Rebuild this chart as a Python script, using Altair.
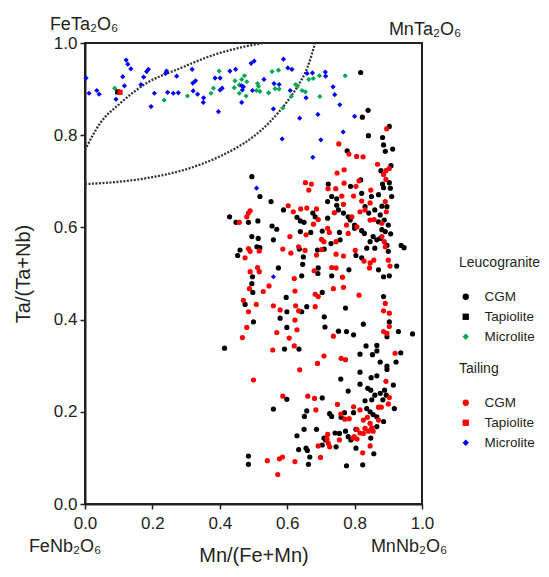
import altair as alt
import pandas as pd

#%% ####################
## values: (Mn/(Fe+Mn), Ta/(Ta+Nb))

# Leucogranite
leuco_cgm = [
    (0.495, 0.710), (0.818, 0.936), (0.840, 0.854), (0.823, 0.839), (0.903, 0.819),
    (0.841, 0.799), (0.883, 0.795), (0.886, 0.779), (0.913, 0.770), (0.891, 0.765),
    (0.778, 0.766), (0.908, 0.734), (0.878, 0.723), (0.903, 0.697), (0.883, 0.694),
    (0.886, 0.686), (0.906, 0.685), (0.722, 0.694), (0.788, 0.689), (0.818, 0.703),
    (0.519, 0.667), (0.552, 0.656), (0.429, 0.623), (0.448, 0.611), (0.485, 0.611),
    (0.513, 0.614), (0.555, 0.603), (0.569, 0.596), (0.495, 0.580), (0.514, 0.576),
    (0.559, 0.573), (0.510, 0.558), (0.519, 0.556), (0.460, 0.551), (0.453, 0.539),
    (0.574, 0.512), (0.497, 0.493), (0.495, 0.478), (0.498, 0.459), (0.475, 0.433),
    (0.500, 0.395), (0.597, 0.448), (0.643, 0.495), (0.691, 0.500), (0.732, 0.495),
    (0.783, 0.508), (0.704, 0.459), (0.658, 0.428), (0.643, 0.417), (0.599, 0.417),
    (0.579, 0.403), (0.599, 0.383), (0.710, 0.406), (0.712, 0.384), (0.773, 0.425),
    (0.752, 0.375), (0.776, 0.374), (0.797, 0.367), (0.826, 0.390), (0.886, 0.450),
    (0.903, 0.395), (0.930, 0.374), (0.972, 0.369), (0.896, 0.363), (0.646, 0.520),
    (0.692, 0.512), (0.636, 0.553), (0.648, 0.536), (0.690, 0.551), (0.710, 0.553),
    (0.730, 0.565), (0.757, 0.573), (0.804, 0.539), (0.821, 0.534), (0.836, 0.555),
    (0.860, 0.555), (0.866, 0.573), (0.876, 0.576), (0.896, 0.561), (0.900, 0.548),
    (0.938, 0.561), (0.947, 0.556), (0.925, 0.516), (0.886, 0.493), (0.903, 0.495),
    (0.871, 0.508), (0.639, 0.591), (0.670, 0.589), (0.704, 0.592), (0.755, 0.589),
    (0.800, 0.598), (0.821, 0.593), (0.829, 0.587), (0.846, 0.569), (0.629, 0.622),
    (0.639, 0.614), (0.650, 0.611), (0.676, 0.631), (0.683, 0.623), (0.720, 0.620),
    (0.589, 0.638), (0.720, 0.656), (0.747, 0.648), (0.752, 0.638), (0.767, 0.631),
    (0.781, 0.623), (0.787, 0.616), (0.800, 0.605), (0.747, 0.662), (0.821, 0.674),
    (0.850, 0.667), (0.871, 0.671), (0.910, 0.667), (0.881, 0.646), (0.896, 0.645),
    (0.876, 0.627), (0.888, 0.616), (0.900, 0.605), (0.881, 0.595), (0.891, 0.591),
    (0.907, 0.586), (0.855, 0.580), (0.871, 0.612), (0.842, 0.631), (0.860, 0.638),
    (0.831, 0.645), (0.732, 0.667),
    (0.414, 0.338), (0.592, 0.336), (0.635, 0.336), (0.834, 0.343), (0.866, 0.344),
    (0.816, 0.325), (0.853, 0.324), (0.866, 0.332), (0.937, 0.328), (0.876, 0.308),
    (0.896, 0.299), (0.896, 0.292), (0.923, 0.308), (0.816, 0.286), (0.849, 0.274),
    (0.866, 0.278), (0.759, 0.271), (0.816, 0.260), (0.839, 0.251), (0.848, 0.247),
    (0.860, 0.236), (0.876, 0.240), (0.889, 0.247), (0.894, 0.236), (0.915, 0.258),
    (0.781, 0.245), (0.831, 0.224), (0.851, 0.226), (0.884, 0.226), (0.918, 0.207),
    (0.836, 0.207), (0.846, 0.200), (0.855, 0.194), (0.866, 0.189), (0.797, 0.198),
    (0.770, 0.198), (0.760, 0.188), (0.886, 0.179), (0.866, 0.168), (0.726, 0.196),
    (0.732, 0.190), (0.704, 0.230), (0.658, 0.202), (0.651, 0.190), (0.559, 0.206),
    (0.599, 0.227), (0.650, 0.162), (0.687, 0.162), (0.629, 0.148), (0.742, 0.154),
    (0.755, 0.153), (0.773, 0.158), (0.781, 0.146), (0.789, 0.139), (0.804, 0.162),
    (0.709, 0.143), (0.714, 0.139), (0.704, 0.128), (0.745, 0.124), (0.848, 0.143),
    (0.804, 0.121), (0.634, 0.118), (0.656, 0.121), (0.660, 0.116), (0.667, 0.102),
    (0.857, 0.109), (0.485, 0.104), (0.485, 0.086), (0.663, 0.086), (0.776, 0.083),
    (0.824, 0.085),
]
leuco_tap = [(0.097, 0.894)]
leuco_mic = [
    (0.088, 0.902), (0.235, 0.876), (0.304, 0.885), (0.374, 0.891), (0.381, 0.902),
    (0.398, 0.939), (0.445, 0.918), (0.458, 0.909), (0.465, 0.921), (0.473, 0.929),
    (0.480, 0.916), (0.443, 0.903), (0.458, 0.891), (0.478, 0.885), (0.509, 0.897),
    (0.555, 0.938), (0.574, 0.941), (0.512, 0.912), (0.515, 0.906), (0.519, 0.895),
    (0.545, 0.892), (0.564, 0.901), (0.576, 0.900), (0.625, 0.910), (0.631, 0.907),
    (0.644, 0.897), (0.654, 0.894), (0.664, 0.921), (0.677, 0.923), (0.696, 0.929),
    (0.772, 0.929), (0.612, 0.884), (0.697, 0.884), (0.587, 0.859),
]

# Tailing
tail_cgm = [
    (0.895, 0.814), (0.753, 0.781), (0.783, 0.759), (0.806, 0.754), (0.825, 0.753),
    (0.769, 0.725), (0.748, 0.718), (0.868, 0.737), (0.893, 0.723), (0.903, 0.728),
    (0.886, 0.715), (0.893, 0.704), (0.813, 0.701), (0.804, 0.689), (0.769, 0.696),
    (0.654, 0.697), (0.672, 0.694), (0.721, 0.684), (0.744, 0.684), (0.664, 0.681),
    (0.848, 0.681),
    (0.762, 0.668), (0.767, 0.650), (0.797, 0.668), (0.821, 0.657), (0.846, 0.653),
    (0.891, 0.656), (0.894, 0.634), (0.603, 0.647), (0.618, 0.634), (0.640, 0.640),
    (0.658, 0.642), (0.687, 0.640), (0.485, 0.631), (0.490, 0.636), (0.480, 0.623),
    (0.458, 0.611), (0.692, 0.617), (0.678, 0.607), (0.740, 0.632), (0.792, 0.623),
    (0.816, 0.634), (0.831, 0.638), (0.858, 0.617), (0.881, 0.609), (0.776, 0.605),
    (0.846, 0.616), (0.656, 0.584), (0.608, 0.580), (0.720, 0.598), (0.725, 0.589),
    (0.702, 0.574), (0.709, 0.569), (0.745, 0.569), (0.781, 0.587), (0.807, 0.601),
    (0.881, 0.580), (0.888, 0.569), (0.891, 0.558), (0.634, 0.558), (0.653, 0.550),
    (0.587, 0.553), (0.611, 0.544), (0.485, 0.554), (0.490, 0.548), (0.517, 0.549),
    (0.475, 0.534), (0.687, 0.540), (0.702, 0.552), (0.745, 0.542), (0.767, 0.538),
    (0.802, 0.550), (0.828, 0.527), (0.846, 0.523), (0.844, 0.512), (0.857, 0.529),
    (0.900, 0.529), (0.905, 0.516), (0.490, 0.504), (0.512, 0.513), (0.517, 0.504),
    (0.546, 0.473), (0.529, 0.461), (0.488, 0.467), (0.470, 0.442), (0.508, 0.433),
    (0.485, 0.417), (0.621, 0.489), (0.680, 0.506), (0.732, 0.513), (0.745, 0.512),
    (0.764, 0.492), (0.737, 0.467), (0.767, 0.470), (0.813, 0.453), (0.623, 0.462),
    (0.683, 0.455), (0.692, 0.450), (0.683, 0.428), (0.559, 0.430), (0.579, 0.421),
    (0.625, 0.430), (0.634, 0.419), (0.623, 0.399), (0.629, 0.378), (0.569, 0.372),
    (0.480, 0.383), (0.467, 0.361), (0.891, 0.435), (0.886, 0.419), (0.903, 0.414),
    (0.903, 0.385), (0.886, 0.374), (0.896, 0.370),
    (0.606, 0.360), (0.737, 0.364), (0.557, 0.334), (0.621, 0.343), (0.709, 0.321),
    (0.690, 0.305), (0.760, 0.316), (0.773, 0.313), (0.920, 0.327), (0.637, 0.291),
    (0.500, 0.269), (0.893, 0.266), (0.903, 0.231), (0.900, 0.217), (0.587, 0.234),
    (0.661, 0.234), (0.681, 0.229), (0.685, 0.204), (0.749, 0.216), (0.797, 0.211),
    (0.816, 0.204), (0.759, 0.195), (0.771, 0.184), (0.784, 0.185), (0.826, 0.182),
    (0.838, 0.188), (0.871, 0.210), (0.879, 0.210), (0.871, 0.182), (0.846, 0.175),
    (0.851, 0.165), (0.807, 0.162), (0.816, 0.154), (0.826, 0.153), (0.831, 0.164),
    (0.841, 0.158), (0.855, 0.158), (0.799, 0.146), (0.807, 0.141), (0.795, 0.143),
    (0.720, 0.151), (0.718, 0.141), (0.722, 0.132), (0.726, 0.124), (0.755, 0.139),
    (0.692, 0.126), (0.846, 0.126), (0.824, 0.111), (0.699, 0.101), (0.541, 0.094),
    (0.577, 0.098), (0.586, 0.102), (0.623, 0.092), (0.572, 0.064),
]
tail_tap = [(0.104, 0.893)]
tail_mic = [
    (0.003, 0.924), (0.012, 0.891), (0.035, 0.897), (0.042, 0.889), (0.122, 0.963),
    (0.127, 0.954), (0.136, 0.944), (0.112, 0.927), (0.117, 0.907), (0.092, 0.878),
    (0.166, 0.910), (0.174, 0.926), (0.183, 0.938), (0.188, 0.943), (0.206, 0.891),
    (0.196, 0.862), (0.239, 0.934), (0.242, 0.939), (0.272, 0.928), (0.245, 0.893),
    (0.262, 0.891), (0.277, 0.892), (0.318, 0.943), (0.320, 0.913), (0.328, 0.918),
    (0.321, 0.896), (0.334, 0.889), (0.352, 0.881), (0.351, 0.871), (0.396, 0.851),
    (0.386, 0.924), (0.401, 0.924), (0.401, 0.898), (0.407, 0.902), (0.430, 0.939),
    (0.447, 0.943), (0.493, 0.956), (0.502, 0.961), (0.465, 0.907), (0.470, 0.905),
    (0.467, 0.898), (0.465, 0.871), (0.497, 0.897),
    (0.589, 0.965), (0.602, 0.946), (0.614, 0.943), (0.531, 0.921), (0.561, 0.912),
    (0.576, 0.910), (0.609, 0.897), (0.659, 0.934), (0.675, 0.935), (0.713, 0.937),
    (0.714, 0.928), (0.736, 0.905), (0.741, 0.888), (0.656, 0.881), (0.756, 0.866),
    (0.559, 0.857), (0.637, 0.837), (0.691, 0.845), (0.800, 0.841), (0.766, 0.807),
    (0.585, 0.792), (0.700, 0.790), (0.676, 0.752), (0.509, 0.685), (0.559, 0.493),
]

# dotted field outline (two arcs cut by the top of the frame)
upper_arc = [(0.0, 0.768), (0.045, 0.826), (0.104, 0.869), (0.183, 0.913), (0.282, 0.945),
             (0.381, 0.974), (0.460, 0.990), (0.528, 1.0)]
lower_arc = [(0.0, 0.694), (0.1, 0.699), (0.2, 0.709), (0.3, 0.726), (0.4, 0.754),
             (0.45, 0.773), (0.5, 0.797), (0.55, 0.830), (0.6, 0.873), (0.63, 0.905),
             (0.66, 0.947), (0.683, 1.0)]

# end-member compositions at the corners
corner_names = ["FeTa₂O₆", "MnTa₂O₆", "FeNb₂O₆", "MnNb₂O₆"]
corner_x = [0, 1, 0, 1]
corner_y = [1, 1, 0, 0]

minerals = ["CGM", "Tapiolite", "Microlite"]
shapes = ["circle", "square", "diamond"]
leuco_colors = ["#000000", "#000000", "#00a650"]
tail_colors = ["#ff0000", "#ff0000", "#0000ff"]

#%% ####################
rows = []
for group, mineral, pts in [("Leucogranite", "CGM", leuco_cgm), ("Leucogranite", "Tapiolite", leuco_tap),
                            ("Leucogranite", "Microlite", leuco_mic), ("Tailing", "CGM", tail_cgm),
                            ("Tailing", "Tapiolite", tail_tap), ("Tailing", "Microlite", tail_mic)]:
    for x, y in pts:
        rows.append({"group": group, "mineral": mineral, "x": x, "y": y})
df = pd.DataFrame(rows)

curve_rows = [{"curve": "upper", "x": x, "y": y} for x, y in upper_arc]
curve_rows += [{"curve": "lower", "x": x, "y": y} for x, y in lower_arc]
curves_df = pd.DataFrame(curve_rows)

corners_df = pd.DataFrame({"name": corner_names, "x": corner_x, "y": corner_y})

#%% ####################
ink = "#231f20"
ticks = [0, 0.2, 0.4, 0.6, 0.8, 1.0]

x_enc = alt.X("x:Q", scale=alt.Scale(domain=[0, 1], nice=False),
              axis=alt.Axis(title="Mn/(Fe+Mn)", values=ticks, format=".1f", grid=False,
                            domainColor=ink, domainWidth=2, tickColor=ink, tickWidth=1.5, tickSize=5,
                            labelFontSize=17, labelPadding=6, labelColor=ink, labelFlush=False,
                            titleFontSize=20, titleFontWeight="normal", titleColor=ink, titlePadding=14))
y_enc = alt.Y("y:Q", scale=alt.Scale(domain=[0, 1], nice=False),
              axis=alt.Axis(title="Ta/(Ta+Nb)", values=ticks, format=".1f", grid=False,
                            domainColor=ink, domainWidth=2, tickColor=ink, tickWidth=1.5, tickSize=5,
                            labelFontSize=17, labelPadding=3, labelColor=ink, labelFlush=False,
                            titleFontSize=20, titleFontWeight="normal", titleColor=ink, titlePadding=20))

curves = alt.Chart(curves_df).mark_line(
    strokeDash=[2, 1.5], strokeWidth=2.3, color="#333333", interpolate="monotone"
).encode(x=x_enc, y=y_enc, detail="curve:N")


def sample_points(group, colors, legend_y):
    legend = alt.Legend(title=group, orient="none", legendX=374, legendY=legend_y,
                        titleFontSize=14, titleFontWeight="normal", titleColor=ink, titlePadding=20,
                        labelFontSize=13.5, labelColor=ink, labelOffset=12, rowPadding=5,
                        symbolSize=40, symbolStrokeWidth=0, padding=0)
    return alt.Chart(df).transform_filter(alt.datum.group == group).mark_point(
        filled=True, size=27, opacity=1
    ).encode(
        x=x_enc,
        y=y_enc,
        color=alt.Color("mineral:N", scale=alt.Scale(domain=minerals, range=colors), legend=legend),
        shape=alt.Shape("mineral:N", scale=alt.Scale(domain=minerals, range=shapes), legend=legend),
    )


leuco = sample_points("Leucogranite", leuco_colors, 213)
tailing = sample_points("Tailing", tail_colors, 319)


def corner_label(name, dx, dy):
    return alt.Chart(corners_df).transform_filter(alt.datum.name == name).mark_text(
        fontSize=18, align="center", baseline="alphabetic", dx=dx, dy=dy, color=ink
    ).encode(x=x_enc, y=y_enc, text="name:N")


labels = (corner_label("FeTa₂O₆", -1, -13) + corner_label("MnTa₂O₆", 3, -8)
          + corner_label("FeNb₂O₆", -20, 48) + corner_label("MnNb₂O₆", -13, 48))

chart = alt.layer(curves, leuco, tailing, labels).resolve_scale(
    color="independent", shape="independent"
).properties(
    width=337, height=461,
    padding={"left": 77, "top": 35, "right": 119, "bottom": 64},
    autosize=alt.AutoSizeParams(type="none"),
).configure(font="Liberation Sans").configure_view(stroke=ink, strokeWidth=2)

chart.save("out.html", embed_options={"renderer": "svg", "actions": False})
